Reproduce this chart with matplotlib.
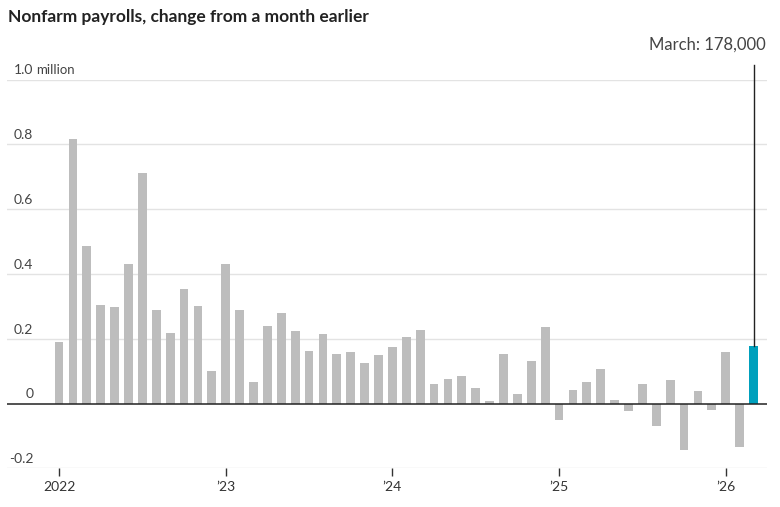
import matplotlib
matplotlib.use("Agg")
import matplotlib.pyplot as plt
import numpy as np

plt.rcParams['font.family'] = ['Lato', 'DejaVu Sans']

# monthly change, millions of jobs, Jan 2022 .. Mar 2026
values_2022 = [0.189, 0.815, 0.486, 0.305, 0.297, 0.432, 0.710, 0.290, 0.219, 0.354, 0.301, 0.100]
values_2023 = [0.432, 0.290, 0.065, 0.239, 0.278, 0.224, 0.162, 0.216, 0.154, 0.158, 0.124, 0.150]
values_2024 = [0.173, 0.204, 0.228, 0.061, 0.077, 0.084, 0.049, 0.007, 0.154, 0.030, 0.131, 0.235]
values_2025 = [-0.050, 0.042, 0.065, 0.108, 0.011, -0.024, 0.061, -0.070, 0.073, -0.143, 0.038, -0.020]
values_2026 = [0.158, -0.135, 0.178]

year_labels = ["2022", "\u201923", "\u201924", "\u201925", "\u201926"]
y_ticks = [-0.2, 0, 0.2, 0.4, 0.6, 0.8, 1.0]
y_tick_labels = ["-0.2", "0", "0.2", "0.4", "0.6", "0.8", "1.0"]
annotation = "March: 178,000"

values = np.array(values_2022 + values_2023 + values_2024 + values_2025 + values_2026)
x = np.arange(len(values))

W, H = 780, 507
fig = plt.figure(figsize=(7.8, 5.07), dpi=100)
ax = fig.add_axes([6.7 / W, 1 - 468.3 / H, 760 / W, (468.3 - 79.5) / H])

colors = ['#bdbdbd'] * (len(values) - 1) + ['#00a0bd']
ax.bar(x, values, width=0.63, color=colors, zorder=2)

ax.set_xlim(-3.77, 50.95)
ax.set_ylim(-0.2, 1.0)

for s in ax.spines.values():
    s.set_visible(False)

# gridlines
for v in y_ticks:
    if v == 0:
        ax.axhline(0, color='#222222', lw=1.1, zorder=3)
    else:
        ax.axhline(v, color='#e3e3e3', lw=1.0, zorder=1)

ax.set_yticks([])
ax.set_xticks(np.arange(0, len(values), 12))
ax.set_xticklabels(year_labels)
ax.tick_params(axis='x', length=5.5, width=1, color='#333333', direction='out',
               pad=4, labelsize=10, labelcolor='#333333')

# y labels sit above gridlines, right-aligned
trans = ax.get_yaxis_transform()
for v, lab in zip(y_ticks, y_tick_labels):
    ax.annotate(lab, xy=(0, v), xycoords=trans, xytext=(26.5, 3),
                textcoords='offset pixels', ha='right', va='bottom',
                fontsize=10, color='#444444')
ax.annotate("million", xy=(0, 1.0), xycoords=trans, xytext=(29, 3),
            textcoords='offset pixels', ha='left', va='bottom',
            fontsize=9.5, color='#444444')

# callout for latest month
last = len(values) - 1
ax.plot([last, last], [values[last], 1.045], color='#222222', lw=1.0,
        clip_on=False, zorder=4)
fig.text(766 / W, 1 - 45 / H, annotation, ha='right', va='center',
         fontsize=12, color='#444444')

fig.text(8 / W, 1 - 17 / H, "Nonfarm payrolls, change from a month earlier",
         ha='left', va='center', fontsize=12.5, fontweight='bold', color='#222222')

fig.savefig('out.png', dpi=100, facecolor='white')
